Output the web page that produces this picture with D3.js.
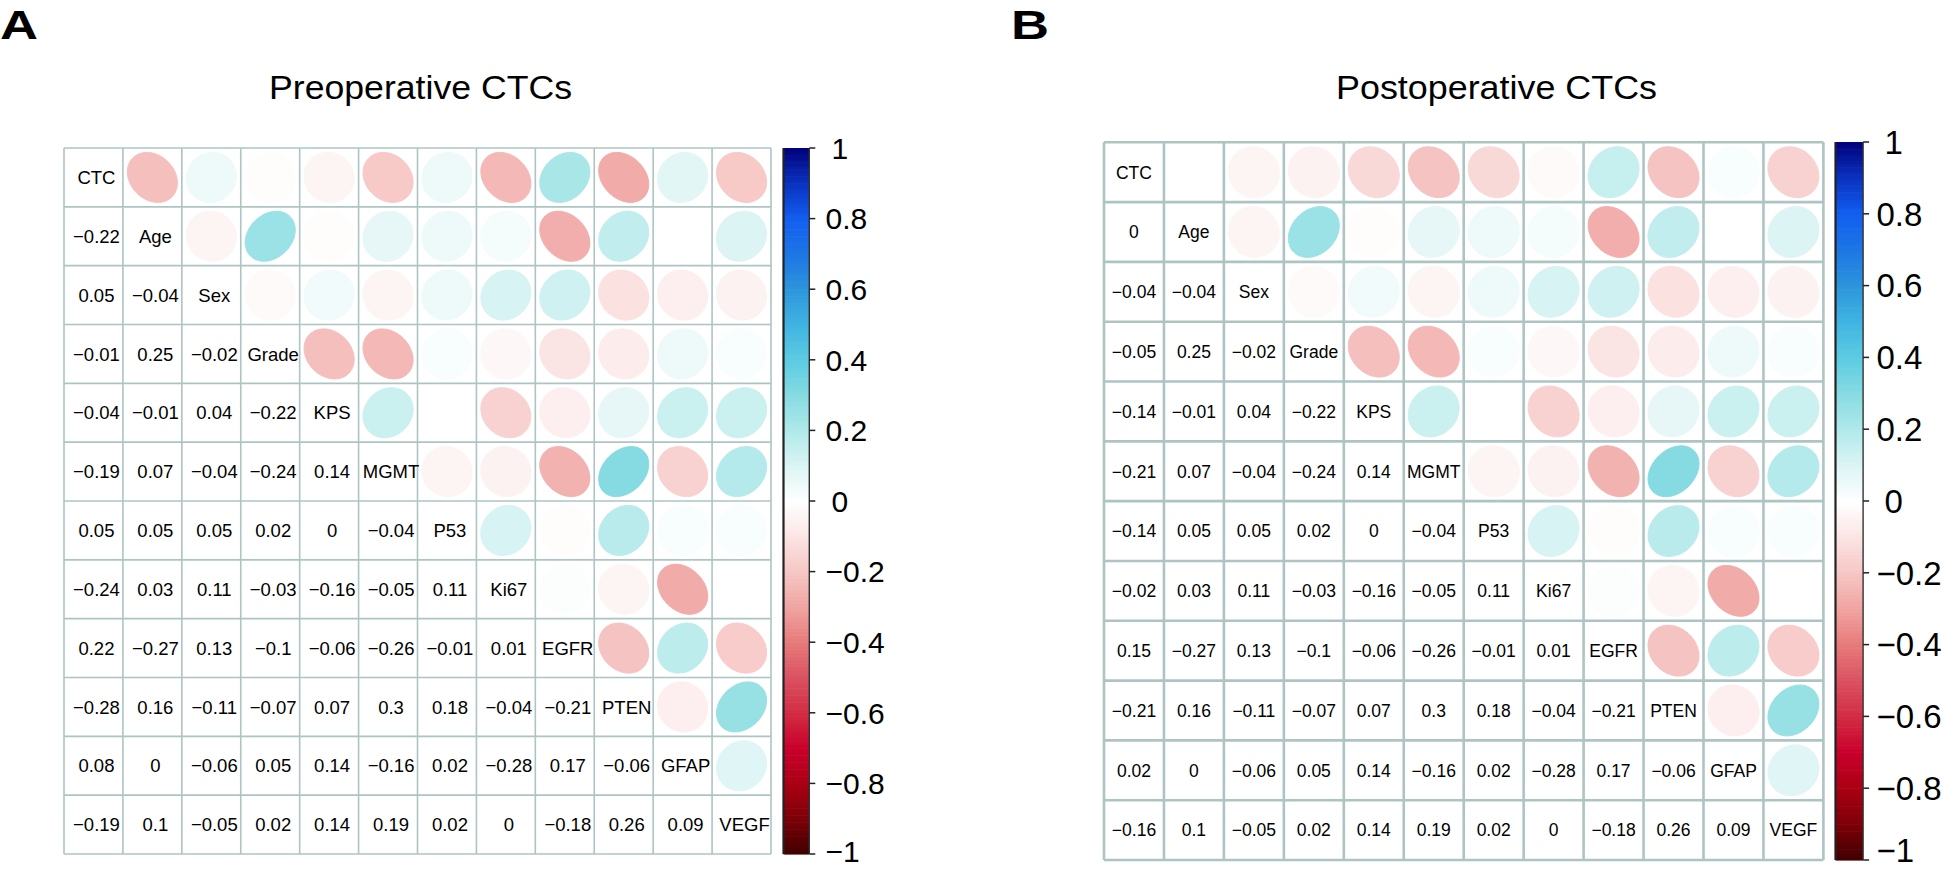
<!DOCTYPE html>
<html><head><meta charset="utf-8">
<script src="https://cdn.jsdelivr.net/npm/d3@7"></script>
<style>html,body{margin:0;padding:0;background:#fff;} svg{display:block;}</style>
</head><body>
<svg id="chart" width="1946" height="870"></svg>
<script>
// ---------------- data ----------------
const variables = ["CTC","Age","Sex","Grade","KPS","MGMT","P53","Ki67","EGFR","PTEN","GFAP","VEGF"];

// lower triangle of the correlation matrix (row i, columns 0..i-1)
const preoperativeLower = [
  [],
  [-0.22],
  [0.05, -0.04],
  [-0.01, 0.25, -0.02],
  [-0.04, -0.01, 0.04, -0.22],
  [-0.19, 0.07, -0.04, -0.24, 0.14],
  [0.05, 0.05, 0.05, 0.02, 0, -0.04],
  [-0.24, 0.03, 0.11, -0.03, -0.16, -0.05, 0.11],
  [0.22, -0.27, 0.13, -0.1, -0.06, -0.26, -0.01, 0.01],
  [-0.28, 0.16, -0.11, -0.07, 0.07, 0.3, 0.18, -0.04, -0.21],
  [0.08, 0, -0.06, 0.05, 0.14, -0.16, 0.02, -0.28, 0.17, -0.06],
  [-0.19, 0.1, -0.05, 0.02, 0.14, 0.19, 0.02, 0, -0.18, 0.26, 0.09]
];
const postoperativeLower = [
  [],
  [0],
  [-0.04, -0.04],
  [-0.05, 0.25, -0.02],
  [-0.14, -0.01, 0.04, -0.22],
  [-0.21, 0.07, -0.04, -0.24, 0.14],
  [-0.14, 0.05, 0.05, 0.02, 0, -0.04],
  [-0.02, 0.03, 0.11, -0.03, -0.16, -0.05, 0.11],
  [0.15, -0.27, 0.13, -0.1, -0.06, -0.26, -0.01, 0.01],
  [-0.21, 0.16, -0.11, -0.07, 0.07, 0.3, 0.18, -0.04, -0.21],
  [0.02, 0, -0.06, 0.05, 0.14, -0.16, 0.02, -0.28, 0.17, -0.06],
  [-0.16, 0.1, -0.05, 0.02, 0.14, 0.19, 0.02, 0, -0.18, 0.26, 0.09]
];
const colorbarTicks = [1, 0.8, 0.6, 0.4, 0.2, 0, -0.2, -0.4, -0.6, -0.8, -1];
const colorStops = [-1, -0.9, -0.8, -0.7, -0.6, -0.5, -0.4, -0.3, -0.2, -0.1, 0, 0.1, 0.2, 0.3, 0.4, 0.5, 0.6, 0.7, 0.8, 0.9, 1];
const colorStopColors = ["#3f0000","#7c0008","#aa0014","#c8002c","#d22c44","#da5262","#e67a7a","#f0a4a2","#f6c6c4","#fbe5e4","#ffffff",
                         "#dcf4f4","#b0e9ea","#86dbe2","#5ccbe2","#40b4e2","#2c95dc","#1c76e4","#125ef0","#0a32c0","#00007c"];
const panelTitles = ["Preoperative CTCs", "Postoperative CTCs"];
const panelLetters = ["A", "B"];

// ---------------- layout ----------------
const panels = [
  {lower: preoperativeLower, title: panelTitles[0], letter: panelLetters[0],
   gx: 64, gy: 148, gw: 707, gh: 706, font: 18.5, textDx: 3, gridW: 1.6, gridOnTop: false,
   cbx: 783.5, cbw: 25.8, cby: 148, cbh: 706, cbFont: 30, cbLabelX: 825.5, cbSingleDx: 6,
   titleX: 269, titleLen: 303, letterX: 0, letterLen: 38},
  {lower: postoperativeLower, title: panelTitles[1], letter: panelLetters[1],
   gx: 1104, gy: 142.3, gw: 719.4, gh: 717.7, font: 17.5, textDx: 0, gridW: 2.6, gridOnTop: true,
   cbx: 1835.5, cbw: 27.6, cby: 142, cbh: 718, cbFont: 33, cbLabelX: 1876.5, cbSingleDx: 8,
   titleX: 1336, titleLen: 321, letterX: 1011, letterLen: 38}
];
const FONT = "'Liberation Sans', Arial, Helvetica, sans-serif";
const GRID_COLOR = "#adc4c3";

const svg = d3.select("#chart");
svg.append("rect").attr("width", 1946).attr("height", 870).attr("fill", "#fff");

const fmt = v => (v < 0 ? "\u2212" : "") + String(Math.abs(v));
const color = d3.scaleLinear().domain(colorStops).range(colorStopColors)
  .interpolate(d3.interpolateRgb).clamp(true);

function corrValue(lower, i, j) {
  if (i === j) return 1;
  return i > j ? lower[i][j] : lower[j][i];
}

const ks = d3.range(0, 99).map(n => n * 2 * Math.PI / 98);
const line = d3.line();

panels.forEach(p => {
  const g = svg.append("g");
  const x = d3.scaleBand().domain(variables).range([p.gx, p.gx + p.gw]);
  const y = d3.scaleBand().domain(variables).range([p.gy, p.gy + p.gh]);
  const bw = x.bandwidth(), bh = y.bandwidth();

  const cells = [];
  variables.forEach((rv, i) => variables.forEach((cv, j) =>
    cells.push({i, j, row: rv, col: cv, v: corrValue(p.lower, i, j)})));

  // letter and title
  g.append("text").attr("x", p.letterX).attr("y", 38.5)
    .attr("textLength", p.letterLen).attr("lengthAdjust", "spacingAndGlyphs")
    .style("font-family", FONT).style("font-weight", "bold").style("font-size", "41px")
    .text(p.letter);
  g.append("text").attr("x", p.titleX).attr("y", 99)
    .attr("textLength", p.titleLen).attr("lengthAdjust", "spacingAndGlyphs")
    .style("font-family", FONT).style("font-size", "33px")
    .text(p.title);

  // ellipses in the upper triangle (corrplot "ellipse" method)
  g.selectAll("path.ell").data(cells.filter(c => c.j > c.i)).join("path")
    .attr("class", "ell")
    .attr("d", c => {
      const a = Math.acos(c.v) / 2;
      const cx = x(c.col) + bw / 2, cy = y(c.row) + bh / 2;
      return line(ks.map(k => [cx + 0.85 * Math.cos(k + a) / 2 * bw,
                               cy - 0.85 * Math.cos(k - a) / 2 * bh])) + "Z";
    })
    .attr("fill", c => color(c.v))
    .attr("stroke", c => color(c.v))
    .attr("stroke-width", 1);

  const drawGrid = () => {
    const gg = g.append("g").attr("stroke", GRID_COLOR).attr("stroke-width", p.gridW);
    gg.selectAll("line.v").data(d3.range(variables.length + 1)).join("line")
      .attr("x1", k => p.gx + k * bw).attr("x2", k => p.gx + k * bw)
      .attr("y1", p.gy).attr("y2", p.gy + p.gh);
    gg.selectAll("line.h").data(d3.range(variables.length + 1)).join("line")
      .attr("y1", k => p.gy + k * bh).attr("y2", k => p.gy + k * bh)
      .attr("x1", p.gx).attr("x2", p.gx + p.gw);
  };
  if (!p.gridOnTop) drawGrid();

  // numbers (lower triangle) and variable names (diagonal)
  g.selectAll("text.cell").data(cells.filter(c => c.j <= c.i)).join("text")
    .attr("class", "cell")
    .attr("x", c => x(c.col) + bw / 2 + p.textDx)
    .attr("y", c => y(c.row) + bh / 2 + p.font * 0.36)
    .attr("text-anchor", "middle")
    .style("font-family", FONT).style("font-size", p.font + "px")
    .text(c => c.i === c.j ? c.row : fmt(c.v));

  if (p.gridOnTop) drawGrid();

  // colour bar
  const cb = d3.scaleLinear().domain([-1, 1]).range([p.cby + p.cbh, p.cby]);
  const steps = d3.range(0, 200).map(n => -1 + n * 0.01);
  g.selectAll("rect.cb").data(steps).join("rect")
    .attr("x", p.cbx).attr("width", p.cbw)
    .attr("y", v => cb(v + 0.01))
    .attr("height", v => cb(v) - cb(v + 0.01) + 0.6)
    .attr("fill", v => color(v + 0.005));
  g.append("line").attr("x1", p.cbx).attr("x2", p.cbx)
    .attr("y1", p.cby).attr("y2", p.cby + p.cbh)
    .attr("stroke", "#222").attr("stroke-width", 2.2);
  g.append("line").attr("x1", p.cbx + p.cbw).attr("x2", p.cbx + p.cbw)
    .attr("y1", p.cby).attr("y2", p.cby + p.cbh)
    .attr("stroke", "#333").attr("stroke-width", 1.4);
  g.selectAll("line.tick").data(colorbarTicks).join("line")
    .attr("x1", p.cbx + p.cbw).attr("x2", p.cbx + p.cbw + 6)
    .attr("y1", v => cb(v)).attr("y2", v => cb(v))
    .attr("stroke", "#222").attr("stroke-width", 1.5);
  g.selectAll("text.tick").data(colorbarTicks).join("text")
    .attr("x", v => p.cbLabelX + (fmt(v).length === 1 ? p.cbSingleDx : 0))
    .attr("y", v => Math.min(cb(v) + p.cbFont * 0.36, 862))
    .style("font-family", FONT).style("font-size", p.cbFont + "px")
    .text(v => fmt(v));
});
</script>
</body></html>
